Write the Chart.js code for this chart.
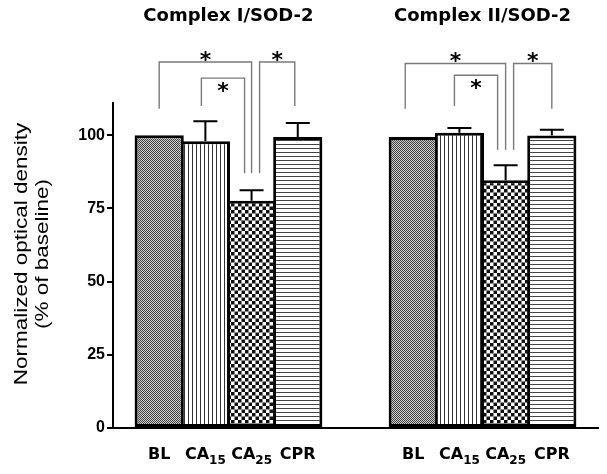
<!DOCTYPE html>
<html>
<head>
<meta charset="utf-8">
<script src="https://cdn.jsdelivr.net/npm/chart.js@4"></script>
<style>
    html, body { margin: 0; padding: 0; background: #fff; }
</style>
</head>
<body>
<canvas id="myChart" width="607" height="474"></canvas>
<script>
// Judul tiap kelompok dan label kondisi (dengan subskrip)
var groupTitles = ['Complex I/SOD-2', 'Complex II/SOD-2'];
var labelBase = ['BL', 'CA', 'CA', 'CPR'];
var labelSub = ['', '15', '25', ''];

// Nilai rata-rata dan SEM (% of baseline)
var meanComplex1 = [100, 97.9, 77.6, 99.4];
var semComplex1 = [0, 6.9, 3.6, 4.8];
var meanComplex2 = [99.4, 100.8, 84.6, 99.9];
var semComplex2 = [0, 1.7, 5.1, 2.0];

var yTicks = [0, 25, 50, 75, 100];

// Perbandingan signifikan (*): pasangan bar, tinggi braket, ujung kaki braket
var pairs = [[0, 2], [1, 2], [2, 3]];
var bracketTop1 = [125, 119.5, 125];
var bracketTop2 = [124.5, 120.5, 124.5];
var legEnd1 = [[109, 87], [110, 87], [87, 110]];
var legEnd2 = [[109, 95], [110, 95], [95, 109]];

function xOf(g, i) {
    return g * 5.5 + i + 1;
}

var ctx = document.getElementById('myChart').getContext('2d');

function makePattern(w, h, draw) {
    var c = document.createElement('canvas');
    c.width = w;
    c.height = h;
    var p = c.getContext('2d');
    p.fillStyle = '#fff';
    p.fillRect(0, 0, w, h);
    draw(p);
    return ctx.createPattern(c, 'repeat');
}

var patBL = makePattern(2, 2, function (p) {
    p.fillStyle = '#cfcfcf';
    p.fillRect(0, 0, 2, 2);
    p.fillStyle = '#404040';
    p.fillRect(0, 0, 1, 1);
    p.fillRect(1, 1, 1, 1);
});
var patCA15 = makePattern(4, 1, function (p) {
    p.fillStyle = '#333';
    p.fillRect(0, 0, 1, 1);
});
var patCA25 = makePattern(7, 7, function (p) {
    p.fillStyle = '#111';
    p.fillRect(0, 0, 3.5, 3.5);
    p.fillRect(3.5, 3.5, 3.5, 3.5);
});
var patCPR = makePattern(1, 4, function (p) {
    p.fillStyle = '#444';
    p.fillRect(0, 0, 1, 1);
});
var fills = [patBL, patCA15, patCA25, patCPR];

var means = meanComplex1.concat(meanComplex2);
var sems = semComplex1.concat(semComplex2);
var points = means.map(function (v, k) {
    return { x: xOf(Math.floor(k / 4), k % 4), y: v };
});

// error bar (hanya ke atas)
var errorBars = {
    id: 'errorBars',
    afterDatasetsDraw: function (chart) {
        var c = chart.ctx;
        var ys = chart.scales.y;
        var meta = chart.getDatasetMeta(0);
        c.save();
        c.strokeStyle = '#000';
        c.lineWidth = 2;
        meta.data.forEach(function (bar, k) {
            if (!sems[k]) return;
            var y0 = ys.getPixelForValue(means[k]);
            var y1 = ys.getPixelForValue(means[k] + sems[k]);
            c.beginPath();
            c.moveTo(bar.x, y0);
            c.lineTo(bar.x, y1);
            c.moveTo(bar.x - 12, y1);
            c.lineTo(bar.x + 12, y1);
            c.stroke();
        });
        c.restore();
    }
};

// braket signifikansi, judul, label sumbu x dan judul sumbu y
var decorations = {
    id: 'decorations',
    afterDraw: function (chart) {
        var c = chart.ctx;
        var xs = chart.scales.x;
        var ys = chart.scales.y;
        var legShift = [[[0, 0], [-4, -7], [8, -3]], [[-8, 0], [-5, -8], [8, 0]]];
        var starAbove = [true, false, true];
        c.save();

        for (var g = 0; g < 2; g++) {
            var tops = g ? bracketTop2 : bracketTop1;
            var ends = g ? legEnd2 : legEnd1;
            pairs.forEach(function (pr, b) {
                var xa = xs.getPixelForValue(xOf(g, pr[0])) + legShift[g][b][0];
                var xb = xs.getPixelForValue(xOf(g, pr[1])) + legShift[g][b][1];
                var yt = ys.getPixelForValue(tops[b]);
                c.strokeStyle = '#7a7a7a';
                c.lineWidth = 1.4;
                c.beginPath();
                c.moveTo(xa, ys.getPixelForValue(ends[b][0]));
                c.lineTo(xa, yt);
                c.lineTo(xb, yt);
                c.lineTo(xb, ys.getPixelForValue(ends[b][1]));
                c.stroke();
                c.fillStyle = '#000';
                c.font = 'bold 22px "DejaVu Sans"';
                c.textAlign = 'center';
                c.textBaseline = 'alphabetic';
                c.fillText('*', (xa + xb) / 2, starAbove[b] ? yt + 5 : yt + 20);
            });

            // judul kelompok
            c.fillStyle = '#000';
            c.font = 'bold 18px "DejaVu Sans"';
            c.textAlign = 'center';
            c.textBaseline = 'alphabetic';
            var mid = (xs.getPixelForValue(xOf(g, 0)) + xs.getPixelForValue(xOf(g, 3))) / 2;
            c.fillText(groupTitles[g], mid, 21);

            // label kondisi
            c.textAlign = 'left';
            for (var i = 0; i < 4; i++) {
                c.font = 'bold 16px "DejaVu Sans"';
                var wb = c.measureText(labelBase[i]).width;
                c.font = 'bold 12px "DejaVu Sans"';
                var ws = labelSub[i] ? c.measureText(labelSub[i]).width : 0;
                var x0 = xs.getPixelForValue(xOf(g, i)) - (wb + ws) / 2;
                c.font = 'bold 16px "DejaVu Sans"';
                c.fillText(labelBase[i], x0, 459);
                if (labelSub[i]) {
                    c.font = 'bold 12px "DejaVu Sans"';
                    c.fillText(labelSub[i], x0 + wb, 464);
                }
            }
        }

        // judul sumbu y
        c.font = '18px "Liberation Sans"';
        c.textAlign = 'center';
        c.textBaseline = 'alphabetic';
        c.translate(27, 254);
        c.rotate(-Math.PI / 2);
        c.scale(1.25, 1);
        c.fillText('Normalized optical density', 0, 0);
        c.fillText('(% of baseline)', 0, 21);
        c.restore();
    }
};

var myChart = new Chart(ctx, {
    type: 'bar',
    data: {
        datasets: [{
            data: points,
            backgroundColor: points.map(function (p, k) { return fills[k % 4]; }),
            borderColor: '#000',
            borderWidth: 3,
            borderSkipped: false,
            barPercentage: 1.065,
            categoryPercentage: 1
        }]
    },
    options: {
        responsive: false,
        animation: false,
        layout: { padding: { top: 103, right: 9, bottom: 0, left: 0 } },
        plugins: {
            legend: { display: false },
            tooltip: { enabled: false }
        },
        scales: {
            x: {
                type: 'linear',
                offset: false,
                min: 0,
                max: 10.5,
                afterBuildTicks: function (s) {
                    s.ticks = points.map(function (p) { return { value: p.x }; });
                },
                afterFit: function (s) { s.height = 46; },
                ticks: { display: false },
                grid: { display: true, drawOnChartArea: false, drawTicks: false },
                border: { color: '#000', width: 2 }
            },
            y: {
                min: 0,
                max: 111,
                afterBuildTicks: function (s) {
                    s.ticks = yTicks.map(function (v) { return { value: v }; });
                },
                afterFit: function (s) { s.width = 113; },
                ticks: {
                    color: '#000',
                    padding: 2,
                    font: { family: 'Liberation Sans', size: 16, weight: 'bold' }
                },
                grid: {
                    drawOnChartArea: false,
                    drawTicks: true,
                    tickLength: 6,
                    color: '#000',
                    lineWidth: 2
                },
                border: { color: '#000', width: 2 }
            }
        }
    },
    plugins: [errorBars, decorations]
});
</script>
</body>
</html>
